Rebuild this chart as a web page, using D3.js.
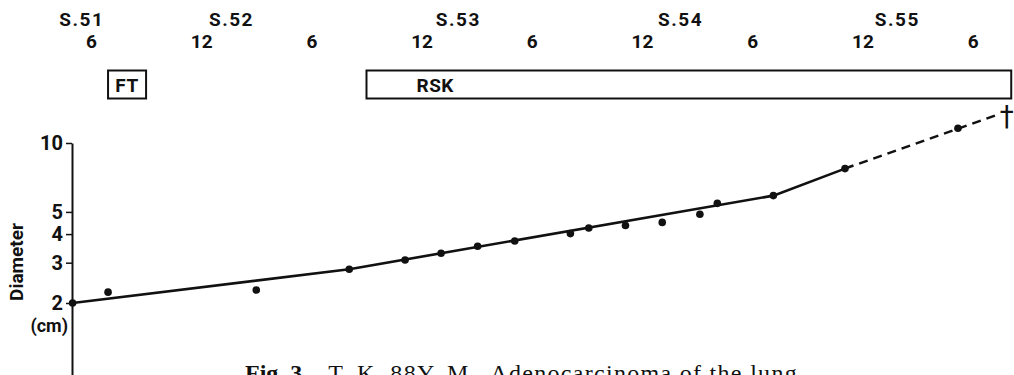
<!DOCTYPE html>
<html>
<head>
<meta charset="utf-8">
<script src="https://cdn.jsdelivr.net/npm/d3@7"></script>
<style>
  body { margin: 0; background: #fff; }
  .lab { font-family: Roboto, "Liberation Sans", sans-serif; font-weight: bold; fill: #111; }
  .caption { font-family: "Liberation Serif", "DejaVu Serif", serif; fill: #111; }
</style>
</head>
<body>
<div id="chart"></div>
<script>
var svgWidth = 1014;
var svgHeight = 375;

// months counted from Jan of S.51 (month 6 = June S.51)
var monthTicks = [6, 12, 18, 24, 30, 36, 42, 48, 54];
var yearLabels = ["S.51", "S.52", "S.53", "S.54", "S.55"];
var yearAt = [5.5, 13.65, 26, 38.1, 49.9];

// treatment periods
var treatNames = ["FT", "RSK"];
var treatStart = [6.93, 21];
var treatEnd = [9.0, 56.1];

// measured tumour diameter (cm)
var obsMonth = [5, 6.93, 15.0, 20.06, 23.1, 25.06, 27.05, 29.07, 32.1, 33.1, 35.1, 37.1, 39.15, 40.1, 43.15, 47.05, 53.2];
var obsDiam = [2.0, 2.23, 2.28, 2.81, 3.08, 3.30, 3.54, 3.73, 4.02, 4.25, 4.36, 4.50, 4.88, 5.45, 5.89, 7.73, 11.6];

// fitted growth line, solid then dashed to death
var fitMonth = [5, 20.06, 43.15, 47.05];
var fitDiam = [2.0, 2.81, 5.89, 7.73];
var dashMonth = [47.05, 55.25];
var dashDiam = [7.73, 13.2];
var deathMonth = 55.85;

var yTicks = [2, 3, 4, 5, 10];

var svg = d3.select("#chart")
  .append("svg")
  .attr("width", svgWidth)
  .attr("height", svgHeight);

// scales
var x = d3.scaleLinear().domain([5, 56]).range([72.6, 1009.4]);
var y = d3.scaleLog().domain([0.95, 10]).range([377, 143]);

// top time axis: months
var topAxis = d3.axisTop(x)
  .tickValues(monthTicks)
  .tickFormat(d => (d % 12 === 0 ? "12" : "6"))
  .tickSize(0)
  .tickPadding(0);

var gTop = svg.append("g")
  .attr("transform", "translate(0, 48)")
  .call(topAxis);
gTop.select(".domain").remove();
gTop.selectAll("text")
  .attr("class", "lab")
  .attr("font-size", 19)
  .attr("dy", 0);

// year labels
svg.selectAll(".year")
  .data(yearLabels)
  .enter()
  .append("text")
  .attr("class", "lab year")
  .attr("x", (d, i) => x(yearAt[i]))
  .attr("y", 26)
  .attr("text-anchor", "middle")
  .attr("font-size", 19)
  .attr("letter-spacing", 1.5)
  .text(d => d);

// treatment boxes
svg.selectAll(".treat")
  .data(treatNames)
  .enter()
  .append("rect")
  .attr("x", (d, i) => x(treatStart[i]))
  .attr("y", 70.5)
  .attr("width", (d, i) => x(treatEnd[i]) - x(treatStart[i]))
  .attr("height", 28)
  .attr("fill", "none")
  .attr("stroke", "#111")
  .attr("stroke-width", 2);

svg.selectAll(".treatText")
  .data(treatNames)
  .enter()
  .append("text")
  .attr("class", "lab")
  .attr("x", (d, i) => (i === 0 ? (x(treatStart[i]) + x(treatEnd[i])) / 2 : x(treatStart[i]) + 50))
  .attr("y", 92)
  .attr("text-anchor", (d, i) => (i === 0 ? "middle" : "start"))
  .attr("font-size", 19)
  .attr("letter-spacing", 0.5)
  .text(d => d);

// y axis (log)
var leftAxis = d3.axisLeft(y)
  .tickValues(yTicks)
  .tickFormat(d3.format("d"))
  .tickSize(6)
  .tickSizeOuter(0)
  .tickPadding(3);

var gLeft = svg.append("g")
  .attr("transform", "translate(72, 0)")
  .call(leftAxis);
gLeft.select(".domain").attr("stroke", "#111").attr("stroke-width", 2);
gLeft.selectAll(".tick line").attr("stroke", "#111").attr("stroke-width", 1.5);
gLeft.selectAll("text")
  .attr("class", "lab")
  .attr("font-size", 20);

svg.append("text")
  .attr("class", "lab")
  .attr("transform", "translate(23, 262) rotate(-90)")
  .attr("text-anchor", "middle")
  .attr("font-size", 19)
  .text("Diameter");

svg.append("text")
  .attr("class", "lab")
  .attr("x", 68)
  .attr("y", 332)
  .attr("text-anchor", "end")
  .attr("font-size", 18)
  .text("(cm)");

// growth lines
var line = d3.line()
  .x(d => x(d[0]))
  .y(d => y(d[1]));

svg.append("path")
  .datum(fitMonth.map((m, i) => [m, fitDiam[i]]))
  .attr("d", line)
  .attr("fill", "none")
  .attr("stroke", "#111")
  .attr("stroke-width", 2.6);

svg.append("path")
  .datum(dashMonth.map((m, i) => [m, dashDiam[i]]))
  .attr("d", line)
  .attr("fill", "none")
  .attr("stroke", "#111")
  .attr("stroke-width", 2.6)
  .attr("stroke-dasharray", "9,6");

// observations
svg.selectAll(".pt")
  .data(obsMonth)
  .enter()
  .append("circle")
  .attr("cx", d => x(d))
  .attr("cy", (d, i) => y(obsDiam[i]))
  .attr("r", 3.8)
  .attr("fill", "#111");

// death mark
svg.append("text")
  .attr("x", x(deathMonth))
  .attr("y", y(dashDiam[1]) + 11)
  .attr("text-anchor", "middle")
  .attr("font-family", "DejaVu Sans, sans-serif")
  .attr("font-size", 28)
  .attr("fill", "#111")
  .text("\u2020");

// caption (cut off at the bottom edge, as in the source)
var cap = svg.append("text")
  .attr("class", "caption")
  .attr("x", 245)
  .attr("y", 381)
  .attr("font-size", 24);
cap.append("tspan").attr("font-weight", "bold").text("Fig. 3.");
cap.append("tspan").attr("dx", 20).attr("letter-spacing", 1.3).text("T. K. 88Y. M.,  Adenocarcinoma of the lung.");
</script>
</body>
</html>
